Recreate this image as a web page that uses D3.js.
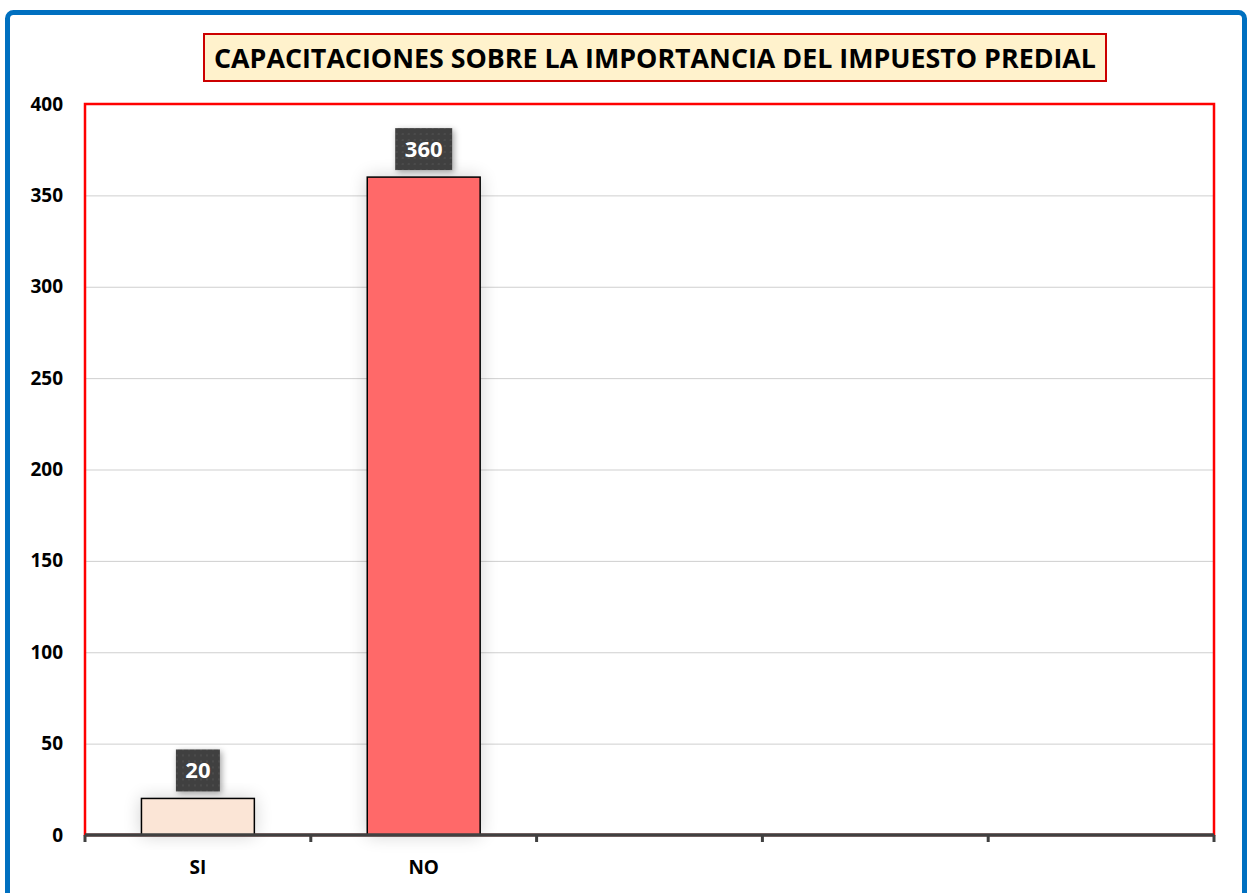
<!DOCTYPE html>
<meta charset="utf-8">
<style>
body { margin: 0; background: #fff; }
.grid line { stroke: #cfcfcf; stroke-width: 1px; }
.grid path { display: none; }
.axis text { font-family: "Open Sans", sans-serif; font-weight: bold; font-size: 19px; fill: #000; }
</style>
<body>
<script src="https://cdn.jsdelivr.net/npm/d3@7"></script>
<script>
// chart values
var categories = ["SI", "NO", "", " ", "  "];
var values = [20, 360, null, null, null];
var yTicks = [0, 50, 100, 150, 200, 250, 300, 350, 400];
var barColors = ["#fbe5d6", "#ff6969"];
var title = "CAPACITACIONES SOBRE LA IMPORTANCIA DEL IMPUESTO PREDIAL";

var W = 1252, H = 893;
var margin = {left: 85, right: 38, top: 104, bottom: 58};

var svg = d3.select("body").append("svg")
    .attr("width", W).attr("height", H);

var defs = svg.append("defs");
var sh = defs.append("filter").attr("id", "glow")
    .attr("x", "-40%").attr("y", "-40%").attr("width", "180%").attr("height", "180%");
sh.append("feGaussianBlur").attr("in", "SourceAlpha").attr("stdDeviation", 9).attr("result", "b");
sh.append("feComponentTransfer").attr("in", "b").attr("result", "b2")
  .append("feFuncA").attr("type", "linear").attr("slope", 0.18);
var m = sh.append("feMerge");
m.append("feMergeNode").attr("in", "b2");
m.append("feMergeNode").attr("in", "SourceGraphic");

var ls = defs.append("filter").attr("id", "lshadow")
    .attr("x", "-30%").attr("y", "-30%").attr("width", "160%").attr("height", "160%");
ls.append("feDropShadow").attr("dx", 2).attr("dy", 2).attr("stdDeviation", 3)
  .attr("flood-color", "#000").attr("flood-opacity", 0.35);

var dots = defs.append("pattern").attr("id", "dots")
    .attr("width", 6).attr("height", 6).attr("patternUnits", "userSpaceOnUse");
dots.append("rect").attr("width", 6).attr("height", 6).attr("fill", "#404040");
dots.append("circle").attr("cx", 3).attr("cy", 3).attr("r", 0.8).attr("fill", "#5a5a5a");

// outer frame
svg.append("rect")
    .attr("x", 7.5).attr("y", 12.5).attr("width", 1237).attr("height", 900)
    .attr("rx", 6)
    .attr("fill", "#fff").attr("stroke", "#0070c0").attr("stroke-width", 5);

var iw = W - margin.left - margin.right,
    ih = H - margin.top - margin.bottom;

var x = d3.scaleBand().domain(categories).range([0, iw]).paddingInner(0).paddingOuter(0);
var y = d3.scaleLinear().domain([0, 400]).range([ih, 0]);

var g = svg.append("g").attr("transform", "translate(" + margin.left + "," + margin.top + ")");

// gridlines
g.append("g").attr("class", "grid")
    .call(d3.axisLeft(y).tickValues(yTicks.slice(1, -1)).tickSize(-iw).tickFormat(""));

// plot border
g.append("rect").attr("x", 0).attr("y", 0).attr("width", iw).attr("height", ih)
    .attr("fill", "none").attr("stroke", "#ff0000").attr("stroke-width", 2.5);

// bars
var data = categories.map(function(c, i) { return {cat: c, val: values[i], i: i}; })
    .filter(function(d) { return d.val != null; });

g.selectAll(".bar").data(data).enter().append("rect")
    .attr("class", "bar")
    .attr("x", function(d) { return x(d.cat) + x.bandwidth() / 4; })
    .attr("width", x.bandwidth() / 2)
    .attr("y", function(d) { return y(d.val); })
    .attr("height", function(d) { return ih - y(d.val); })
    .attr("fill", function(d) { return barColors[d.i]; })
    .attr("stroke", "#000").attr("stroke-width", 1.5)
    .attr("filter", "url(#glow)");

// y axis
var ya = g.append("g").attr("class", "axis")
    .call(d3.axisLeft(y).tickValues(yTicks).tickSize(0).tickPadding(22));
ya.select(".domain").remove();

// x axis
var xa = g.append("g").attr("class", "axis")
    .attr("transform", "translate(0," + ih + ")")
    .call(d3.axisBottom(x).tickSize(0).tickPadding(26));
xa.select(".domain").remove();
xa.selectAll("text").attr("dy", "0.71em");
xa.append("line").attr("x1", 0).attr("x2", iw).attr("y1", 0).attr("y2", 0)
    .attr("stroke", "#404040").attr("stroke-width", 3.5);
xa.selectAll(".tk").data(d3.range(categories.length + 1)).enter().append("line")
    .attr("class", "tk")
    .attr("x1", function(d) { return d * x.step(); })
    .attr("x2", function(d) { return d * x.step(); })
    .attr("y1", 0).attr("y2", 7)
    .attr("stroke", "#404040").attr("stroke-width", 3);

// data labels
var lab = g.selectAll(".lab").data(data).enter().append("g")
    .attr("class", "lab")
    .attr("transform", function(d) {
      return "translate(" + (x(d.cat) + x.bandwidth() / 2) + "," + (y(d.val) - 28) + ")";
    });
lab.append("rect")
    .attr("x", function(d) { var w = String(d.val).length * 13 + 18; return -w / 2; })
    .attr("width", function(d) { return String(d.val).length * 13 + 18; })
    .attr("y", -21).attr("height", 42)
    .attr("fill", "url(#dots)")
    .attr("filter", "url(#lshadow)");
lab.append("text")
    .attr("text-anchor", "middle").attr("dy", "0.36em")
    .style("font-family", "'Open Sans', sans-serif").style("font-weight", "bold")
    .style("font-size", "22px").style("fill", "#fff")
    .text(function(d) { return d.val; });

// title
var tg = svg.append("g");
tg.append("rect").attr("x", 204).attr("y", 34).attr("width", 902).attr("height", 47)
    .attr("fill", "#fff2cc").attr("stroke", "#cc0000").attr("stroke-width", 2);
tg.append("text").attr("x", 655).attr("y", 58).attr("dy", "0.36em")
    .attr("text-anchor", "middle")
    .attr("textLength", 882).attr("lengthAdjust", "spacingAndGlyphs")
    .style("font-family", "'Open Sans', sans-serif").style("font-weight", "bold")
    .style("font-size", "27px").style("fill", "#000")
    .text(title);
</script>
</body>
